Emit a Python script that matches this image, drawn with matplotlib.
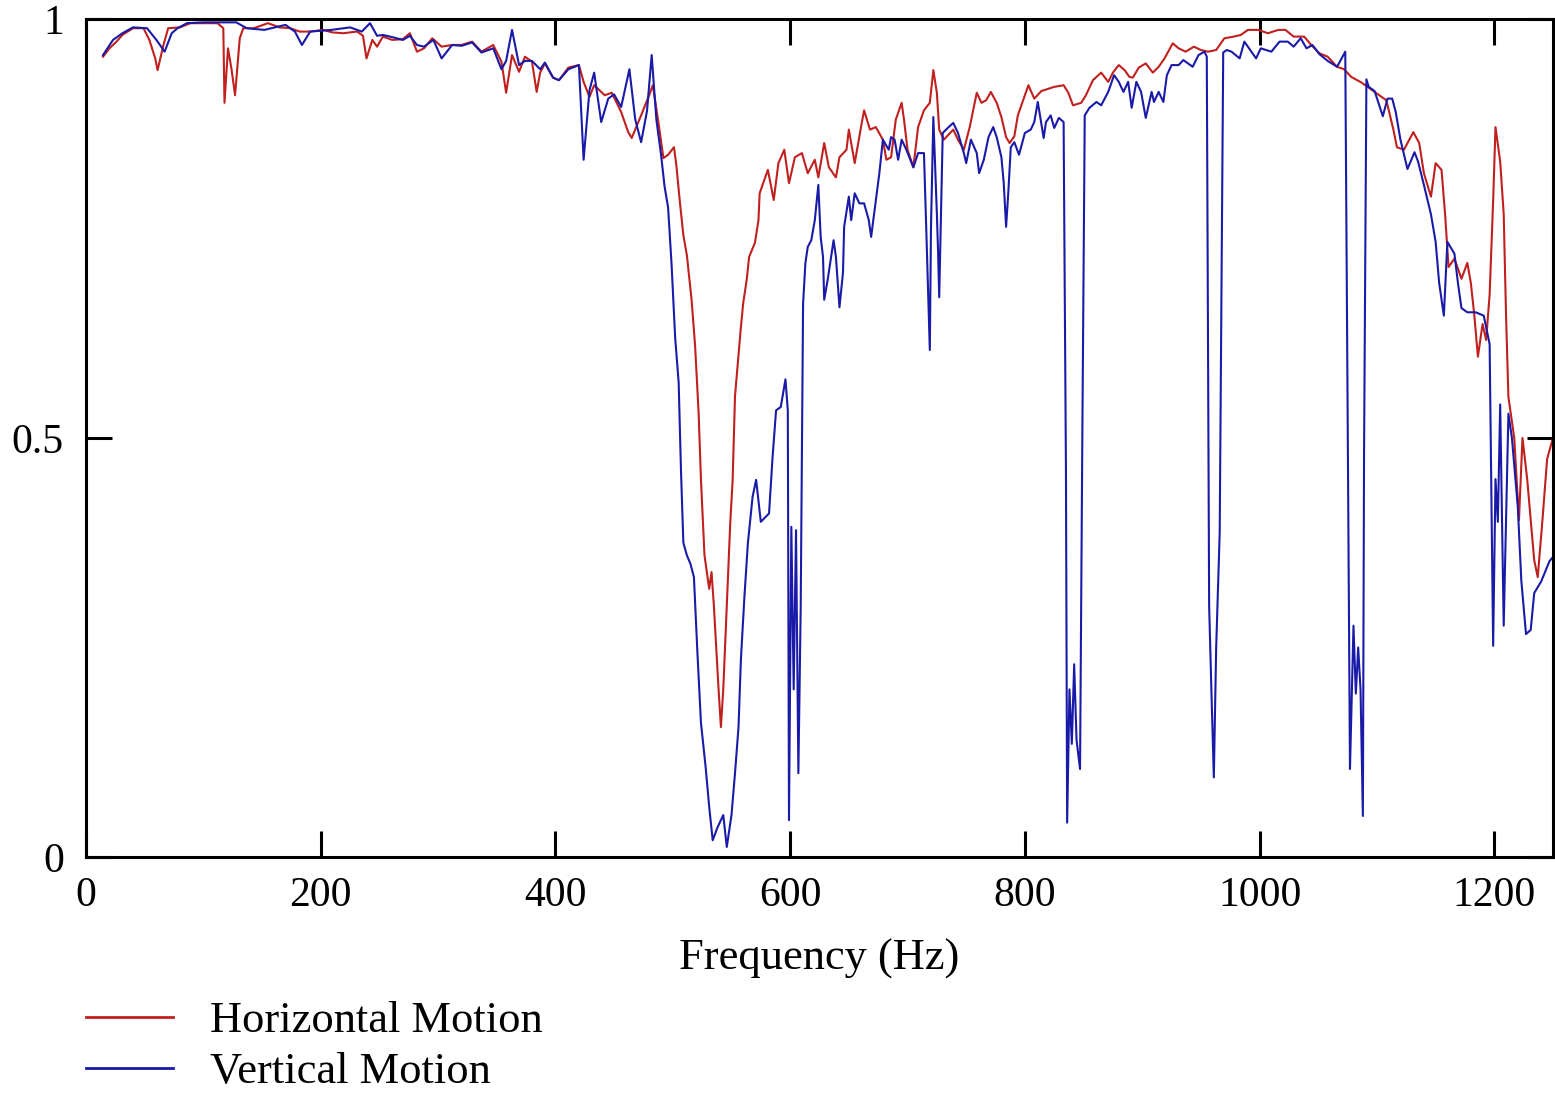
import matplotlib
matplotlib.use("Agg")
import matplotlib.pyplot as plt

# ---------------- data ----------------
h_freq = [14.5, 20, 26, 31, 40, 49, 54, 59, 61, 66, 70, 80, 89, 100, 112, 117, 118, 121, 124, 127,
          131, 134, 143, 155, 165, 174, 182, 191, 202, 210, 219, 231, 236, 239, 244, 248, 253, 261, 270, 276,
          282, 288, 295, 303, 312, 320, 329, 337, 347, 354, 358, 363, 369, 374, 380, 384, 387, 391, 398, 403,
          411, 420, 424, 429, 433, 442, 448, 456, 462, 465, 473, 479, 483, 488, 492, 496, 501, 503, 506, 509,
          512, 516, 519, 522, 524, 527, 531, 533, 535, 537, 539, 541, 543, 546, 549, 551, 553, 556, 558, 560,
          563, 565, 570, 573, 574, 578, 581, 586, 590, 595, 599, 604, 610, 615, 621, 624, 629, 633, 639, 642,
          648, 650, 655, 661, 663, 668, 673, 679, 682, 686, 690, 695, 697, 700, 705, 709, 714, 719, 722, 725,
          727, 731, 739, 743, 748, 753, 759, 763, 767, 771, 776, 780, 784, 787, 791, 794, 803, 808, 814, 825,
          833, 837, 841, 848, 852, 858, 865, 871, 875, 880, 885, 889, 892, 897, 903, 909, 914, 919, 926, 931,
          937, 944, 950, 956, 963, 970, 978, 984, 990, 999, 1007, 1016, 1022, 1029, 1038, 1044, 1051, 1058, 1066, 1072,
          1078, 1087, 1093, 1099, 1108, 1114, 1117, 1123, 1131, 1136, 1140, 1146, 1150, 1155, 1158, 1161, 1166, 1172, 1177, 1180,
          1183, 1186, 1190, 1193, 1196, 1199, 1201, 1205, 1208, 1210, 1212, 1217, 1221, 1224, 1228, 1234, 1237, 1241, 1245, 1250]
h_val = [0.955, 0.965, 0.973, 0.981, 0.989, 0.989, 0.975, 0.953, 0.939, 0.969, 0.989, 0.990, 0.995, 0.995, 0.995, 0.989, 0.900, 0.965, 0.940, 0.909,
         0.977, 0.989, 0.989, 0.995, 0.990, 0.989, 0.985, 0.985, 0.987, 0.984, 0.983, 0.985, 0.980, 0.953, 0.975, 0.967, 0.979, 0.975, 0.976, 0.983,
         0.961, 0.965, 0.977, 0.967, 0.969, 0.969, 0.973, 0.961, 0.969, 0.949, 0.912, 0.957, 0.937, 0.955, 0.949, 0.913, 0.936, 0.947, 0.930, 0.927,
         0.942, 0.945, 0.925, 0.907, 0.921, 0.909, 0.912, 0.889, 0.865, 0.858, 0.885, 0.906, 0.921, 0.874, 0.834, 0.838, 0.847, 0.826, 0.782, 0.742,
         0.718, 0.665, 0.610, 0.530, 0.450, 0.360, 0.320, 0.340, 0.300, 0.250, 0.200, 0.155, 0.200, 0.300, 0.400, 0.450, 0.550, 0.600, 0.632, 0.661,
         0.689, 0.716, 0.733, 0.760, 0.792, 0.808, 0.820, 0.784, 0.828, 0.844, 0.804, 0.835, 0.840, 0.816, 0.832, 0.811, 0.852, 0.823, 0.811, 0.835,
         0.844, 0.868, 0.828, 0.876, 0.891, 0.868, 0.871, 0.856, 0.832, 0.835, 0.880, 0.900, 0.880, 0.844, 0.823, 0.871, 0.891, 0.900, 0.939, 0.912,
         0.868, 0.856, 0.868, 0.856, 0.844, 0.871, 0.912, 0.900, 0.903, 0.913, 0.900, 0.883, 0.859, 0.852, 0.860, 0.885, 0.921, 0.905, 0.914, 0.919,
         0.921, 0.912, 0.897, 0.900, 0.909, 0.927, 0.936, 0.925, 0.936, 0.945, 0.939, 0.931, 0.930, 0.942, 0.947, 0.936, 0.943, 0.953, 0.971, 0.965,
         0.961, 0.967, 0.963, 0.961, 0.963, 0.977, 0.979, 0.981, 0.987, 0.987, 0.983, 0.987, 0.987, 0.979, 0.979, 0.969, 0.959, 0.955, 0.943, 0.940,
         0.931, 0.924, 0.918, 0.912, 0.903, 0.868, 0.847, 0.844, 0.865, 0.852, 0.816, 0.788, 0.828, 0.820, 0.768, 0.704, 0.714, 0.690, 0.709, 0.685,
         0.646, 0.597, 0.636, 0.617, 0.671, 0.783, 0.871, 0.830, 0.767, 0.646, 0.549, 0.500, 0.402, 0.500, 0.451, 0.354, 0.334, 0.402, 0.475, 0.500]

v_freq = [14.5, 23, 31, 40, 52, 60, 65, 67, 73, 78, 86, 100, 115, 128, 137, 152, 170, 178, 184, 191,
          209, 225, 235, 242, 248, 253, 262, 270, 276, 282, 288, 296, 303, 312, 320, 329, 337, 347, 354, 358,
          363, 369, 374, 380, 387, 391, 398, 403, 411, 420, 424, 429, 433, 439, 445, 450, 456, 463, 468, 473,
          478, 482, 486, 490, 493, 496, 499, 502, 505, 507, 509, 512, 515, 518, 521, 524, 528, 531, 534, 538,
          543, 546, 550, 553, 556, 558, 561, 564, 568, 571, 575, 582, 585, 588, 592, 596, 598, 599, 601, 603,
          605, 607, 609, 611, 613, 615, 618, 621, 624, 626, 628, 629, 632, 637, 639, 642, 645, 646, 650, 652,
          655, 659, 663, 667, 669, 673, 676, 679, 684, 686, 689, 692, 695, 699, 705, 709, 714, 716, 719, 720,
          722, 725, 726, 727, 730, 735, 739, 743, 748, 750, 754, 759, 761, 765, 769, 773, 776, 780, 782, 784,
          786, 788, 791, 795, 800, 805, 808, 811, 816, 818, 822, 825, 829, 833, 835, 836, 838, 840, 842, 844,
          847, 849, 851, 855, 861, 865, 871, 876, 880, 884, 888, 891, 895, 899, 903, 908, 910, 914, 918, 921,
          925, 931, 935, 939, 943, 948, 953, 955, 957, 959, 961, 963, 966, 969, 972, 976, 983, 987, 991, 997,
          1001, 1010, 1017, 1024, 1029, 1035, 1040, 1045, 1051, 1058, 1066, 1073, 1075, 1077, 1080, 1082, 1084, 1086, 1088, 1089,
          1091, 1093, 1098, 1105, 1109, 1113, 1116, 1120, 1126, 1132, 1135, 1140, 1146, 1150, 1153, 1157, 1160, 1166, 1169, 1172,
          1177, 1184, 1191, 1196, 1199, 1201, 1203, 1205, 1208, 1212, 1215, 1220, 1223, 1227, 1231, 1234, 1240, 1247, 1250]
v_val = [0.957, 0.975, 0.983, 0.990, 0.989, 0.975, 0.965, 0.961, 0.983, 0.989, 0.995, 0.996, 0.996, 0.996, 0.989, 0.987, 0.993, 0.985, 0.969, 0.985,
         0.987, 0.990, 0.985, 0.995, 0.980, 0.981, 0.978, 0.975, 0.980, 0.969, 0.967, 0.975, 0.953, 0.969, 0.968, 0.972, 0.960, 0.965, 0.940, 0.950,
         0.987, 0.945, 0.950, 0.950, 0.940, 0.948, 0.930, 0.927, 0.940, 0.945, 0.832, 0.915, 0.936, 0.877, 0.905, 0.910, 0.895, 0.940, 0.880, 0.853,
         0.890, 0.957, 0.880, 0.838, 0.800, 0.775, 0.706, 0.620, 0.566, 0.460, 0.375, 0.360, 0.350, 0.334, 0.243, 0.160, 0.107, 0.060, 0.020, 0.035,
         0.050, 0.012, 0.050, 0.100, 0.155, 0.235, 0.310, 0.375, 0.430, 0.450, 0.400, 0.410, 0.477, 0.533, 0.537, 0.570, 0.533, 0.044, 0.394, 0.200,
         0.390, 0.100, 0.300, 0.660, 0.709, 0.728, 0.736, 0.760, 0.802, 0.740, 0.716, 0.665, 0.689, 0.736, 0.716, 0.656, 0.697, 0.752, 0.788, 0.760,
         0.792, 0.780, 0.780, 0.760, 0.740, 0.784, 0.816, 0.856, 0.844, 0.859, 0.856, 0.832, 0.856, 0.844, 0.823, 0.840, 0.840, 0.748, 0.605, 0.752,
         0.883, 0.768, 0.724, 0.668, 0.864, 0.871, 0.876, 0.864, 0.840, 0.828, 0.856, 0.840, 0.816, 0.832, 0.859, 0.871, 0.859, 0.835, 0.804, 0.752,
         0.796, 0.847, 0.853, 0.838, 0.864, 0.868, 0.877, 0.901, 0.858, 0.877, 0.885, 0.870, 0.882, 0.877, 0.460, 0.041, 0.200, 0.135, 0.230, 0.140,
         0.105, 0.510, 0.885, 0.894, 0.901, 0.897, 0.913, 0.933, 0.925, 0.913, 0.925, 0.894, 0.925, 0.913, 0.882, 0.913, 0.901, 0.913, 0.901, 0.933,
         0.945, 0.945, 0.951, 0.947, 0.943, 0.957, 0.961, 0.955, 0.300, 0.195, 0.095, 0.250, 0.387, 0.960, 0.963, 0.961, 0.953, 0.973, 0.965, 0.953,
         0.965, 0.961, 0.973, 0.973, 0.967, 0.977, 0.965, 0.969, 0.958, 0.950, 0.943, 0.961, 0.532, 0.105, 0.276, 0.195, 0.250, 0.200, 0.049, 0.481,
         0.928, 0.919, 0.914, 0.884, 0.905, 0.905, 0.889, 0.856, 0.821, 0.841, 0.830, 0.802, 0.767, 0.734, 0.685, 0.646, 0.734, 0.720, 0.685, 0.655,
         0.650, 0.650, 0.646, 0.612, 0.252, 0.451, 0.400, 0.540, 0.276, 0.529, 0.500, 0.418, 0.330, 0.266, 0.271, 0.315, 0.329, 0.353, 0.358]

x_ticks = [0, 200, 400, 600, 800, 1000, 1200]
y_ticks = [0, 0.5, 1]
y_tick_labels = ["0", "0.5", "1"]
series_labels = ["Horizontal Motion", "Vertical Motion"]
x_label = "Frequency (Hz)"

# ---------------- figure ----------------
plt.rcParams['font.family'] = ['Liberation Serif', 'DejaVu Serif']
W, H = 1555, 1095
fig = plt.figure(figsize=(W / 100, H / 100), dpi=100)
fig.patch.set_facecolor('white')
ax = fig.add_axes([86 / W, (H - 857) / H, (1553 - 86) / W, (857 - 19) / H])

red = '#c0201e'
blue = '#1a1aa8'
l1, = ax.plot(h_freq, h_val, color=red, lw=1.5, label=series_labels[0])
l2, = ax.plot(v_freq, v_val, color=blue, lw=1.5, label=series_labels[1])

ax.set_xlim(0, 1250)
ax.set_ylim(0, 1)
ax.set_xticks(x_ticks)
ax.set_xticklabels([str(t) for t in x_ticks])
ax.set_yticks(y_ticks)
ax.set_yticklabels(y_tick_labels)
ax.tick_params(axis='both', direction='in', length=19, width=2.2, top=True, right=True,
               labelsize=30, colors='black')
ax.tick_params(axis='x', pad=14)
ax.tick_params(axis='y', pad=16)
for s in ax.spines.values():
    s.set_linewidth(2.2)
    s.set_color('black')

ax.set_xlabel(x_label, fontsize=32, labelpad=17)

leg = fig.legend(handles=[l1, l2], loc='upper left', bbox_to_anchor=(86 / W, (H - 1001) / H),
                 frameon=False, fontsize=32, handlelength=1.95, handletextpad=0.85,
                 labelspacing=0.25, borderpad=0, borderaxespad=0)
for ln in leg.get_lines():
    ln.set_linewidth(2.0)

fig.savefig('out.png', dpi=100, facecolor='white')
